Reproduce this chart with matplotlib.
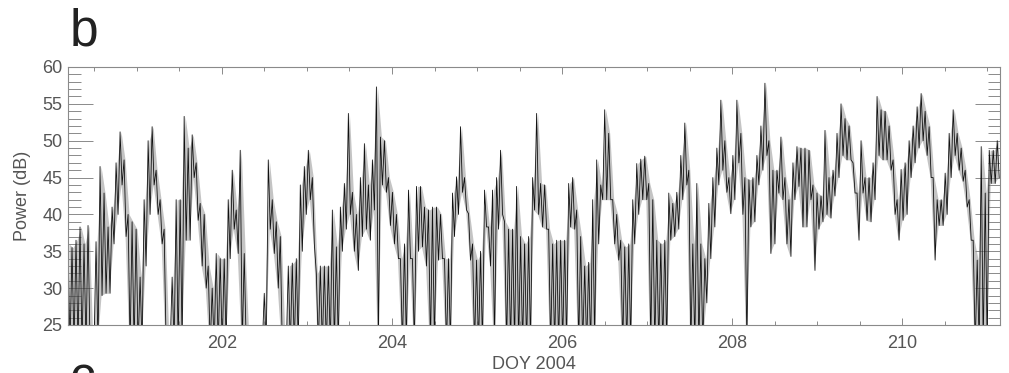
import numpy as np
import matplotlib.pyplot as plt
from matplotlib.ticker import MultipleLocator

plt.rcParams['font.family'] = ['Liberation Sans', 'DejaVu Sans']

# power envelope (dB): upper / lower value in each 0.047-day bin from DOY 200.19
doy_start = 200.19
bin_days = 0.0471
power_hi = [
    36, 35.5, 36.5, 38.3, 36, 38.5, 22, 36.3, 46.5, 42.9,
    38.3, 41, 47, 51.2, 47.4, 40, 39, 38, 31.5, 42,
    50, 51.9, 46, 42, 38, 22, 31.5, 42, 42, 53.3,
    49, 50.8, 47, 41.5, 40, 33, 30, 34.7, 34, 34,
    42, 46, 40.6, 48.7, 34.7, 22, 22, 22, 22, 29.3,
    47.4, 42, 39, 37, 22, 33, 33.4, 34, 44, 46.5,
    48.7, 45, 32, 33, 33, 33, 40.6, 35.6, 41, 44.2,
    53.7, 43, 40, 45, 49.6, 44, 47.4, 57.3, 50.5, 50,
    45, 43, 40, 34, 36, 43.3, 34, 43.8, 43.8, 41,
    40.6, 41, 41, 40, 34, 34, 42.9, 45.1, 51.9, 45,
    40.1, 36, 33.8, 35, 43.3, 38.3, 43.3, 45, 48.7, 39,
    38, 38, 43.8, 37, 36, 37, 45, 53.7, 44.2, 44,
    38, 36, 36.5, 36.5, 36.5, 44.2, 45, 40.6, 37, 33,
    33.5, 42, 47.4, 44, 54.2, 51, 42, 40, 36.5, 35.6,
    36, 42, 46.9, 47.5, 47.9, 44.2, 42, 36.5, 36, 36.5,
    42.9, 41.5, 43, 48, 52.4, 46, 36, 44.2, 36, 34,
    41.5, 45, 49, 55.5, 50, 45, 48, 55.5, 51, 45,
    44.7, 45, 48, 52, 57.8, 50, 46, 46, 50.5, 45,
    42, 47, 49.2, 49, 49, 48.7, 44, 42.9, 42.5, 51.4,
    45, 46, 51, 55, 53, 52, 47, 42.9, 50, 45,
    45, 47, 56, 54.2, 54, 52, 47.4, 42, 46.1, 47,
    50, 52, 54.6, 56.4, 54, 51.9, 45, 42, 42, 45.6,
    51, 54.2, 51, 49, 46, 42, 36.5, 33.8, 49.2, 42.9,
    48.7, 48.7, 50,
]
power_lo = [
    22, 22, 22, 22, 22, 22, 22, 22, 29, 29.3,
    29.3, 36, 40, 44, 37, 22, 22, 22, 22, 33,
    40, 44, 40, 36, 22, 22, 22, 22, 22, 36.5,
    36.5, 45, 39.2, 33, 30, 22, 22, 22, 22, 22,
    34, 38, 34.7, 22, 22, 22, 22, 22, 22, 22,
    38, 34.7, 30, 22, 22, 22, 22, 22, 35, 40,
    42, 36, 22, 22, 22, 22, 22, 22, 35, 38,
    40, 35, 32.4, 37, 38, 36.5, 40.6, 22, 44, 43,
    38.5, 36, 34, 22, 22, 34, 22, 35, 35.6, 33,
    22, 22, 33.8, 34, 22, 22, 37, 40, 43, 40.6,
    33.8, 22, 22, 22, 38.3, 33, 22, 38, 40, 22,
    22, 22, 22, 22, 22, 22, 40.6, 40, 38.3, 38,
    22, 22, 22, 22, 22, 38.3, 38, 22, 22, 22,
    22, 22, 36, 42, 42, 42, 36, 33.8, 22, 22,
    22, 36, 40, 42, 42, 22, 22, 22, 22, 22,
    36.5, 37, 38, 42, 44, 22, 22, 22, 22, 28,
    34, 38.3, 44, 46, 43, 40.1, 42, 47, 40, 22,
    38.3, 39, 44, 46, 48, 34.7, 36, 42.9, 42, 36,
    34.3, 42, 43.8, 38.3, 38.3, 42, 32.4, 38, 39, 40,
    39.5, 42.5, 45, 48, 47.4, 47.4, 42.9, 36.5, 42.9, 39.2,
    39, 42, 48, 47.4, 47.4, 46, 40, 36.5, 39.2, 40,
    45, 47, 49, 50, 48, 45, 33.8, 38.5, 38.5, 40,
    45, 48, 46, 44.5, 41, 36.5, 22, 22, 22, 22,
    44.2, 44.2, 45,
]

n = len(power_hi)
doy = doy_start + bin_days * np.arange(n)

# zig-zag between upper and lower values to mimic the dense sampled trace
t = np.empty(2 * n)
p = np.empty(2 * n)
t[0::2] = doy
t[1::2] = doy + bin_days / 2
p[0::2] = power_hi
p[1::2] = power_lo

fig = plt.figure(figsize=(10.09, 3.73), dpi=100)
ax = fig.add_axes([0.0674, 0.1287, 0.9237, 0.6917])

# light grey spread of the samples, dark trace on top
ax.fill_between(doy + bin_days / 4, power_lo, power_hi, color='#c4c4c4',
                linewidth=0)
ax.plot(t, p, color='#111111', linewidth=0.6)

ax.set_xlim(200.19, 211.15)
ax.set_ylim(25, 60)
ax.xaxis.set_major_locator(MultipleLocator(2))
ax.xaxis.set_minor_locator(MultipleLocator(0.5))
ax.yaxis.set_major_locator(MultipleLocator(5))
ax.yaxis.set_minor_locator(MultipleLocator(1))

axis_grey = '#8a8a8a'
text_grey = '#555555'
for s in ax.spines.values():
    s.set_color(axis_grey)
    s.set_linewidth(0.8)
ax.tick_params(which='both', direction='in', top=True, right=True,
               color=axis_grey, width=0.7, labelcolor=text_grey, labelsize=13)
ax.xaxis.set_tick_params(which='major', length=5, pad=7)
ax.xaxis.set_tick_params(which='minor', length=3)
ax.yaxis.set_tick_params(which='major', length=18, pad=4)
ax.yaxis.set_tick_params(which='minor', length=9)

ax.set_xlabel('DOY 2004', fontsize=13, color=text_grey, labelpad=3)
ax.set_ylabel('Power (dB)', fontsize=13, color=text_grey, labelpad=8)

fig.text(0.069, 0.879, 'b', fontsize=37, color='#222222', va='baseline')
# next panel's letter, mostly below the lower edge
fig.text(0.069, -0.054, 'c', fontsize=37, color='#222222', va='baseline')

fig.savefig('out.png', dpi=100)
